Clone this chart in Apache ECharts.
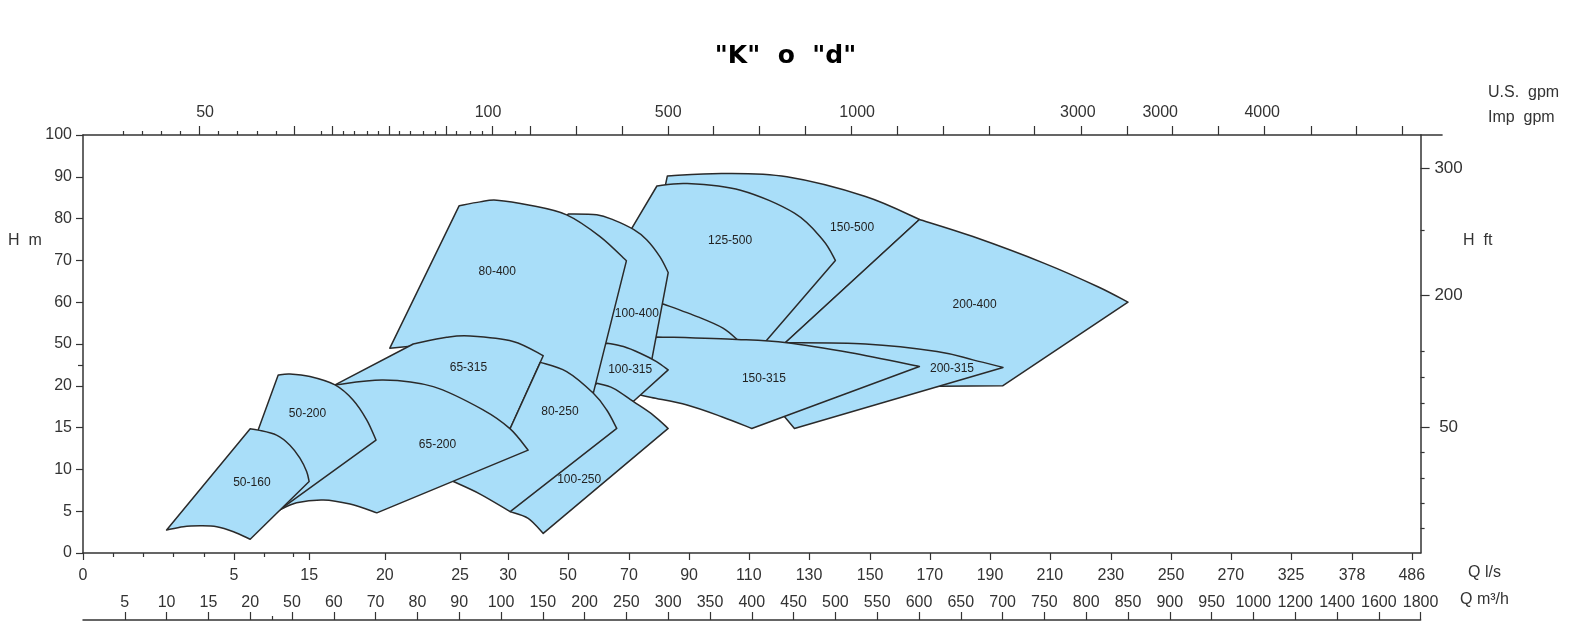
<!DOCTYPE html>
<html><head><meta charset="utf-8">
<script src="https://cdn.jsdelivr.net/npm/echarts@6/dist/echarts.min.js"></script>
<style>html,body{margin:0;padding:0;background:#fff}#c{width:1571px;height:630px}</style>
</head><body><div id="c"></div>
<script>
// ---------------- axis data (positions are in tick-grid units: x = m³/h tick index, y = H tick index) -------------
const hLabels = ['0','5','10','15','20','50','60','70','80','90','100'];
const hMinorPos = [4.5];
const hftLabels = ['300','200','50'];
const hftPos = [9.21, 6.17, 3.01];
const hftMinorPos = [7.73, 4.83, 4.21, 3.59, 2.42, 1.79, 1.20, 0.60];
const qlsLabels = ['0','5','15','20','25','30','50','70','90','110','130','150','170','190','210','230','250','270','325','378','486'];
const qlsPos = [0, 3.61, 5.41, 7.22, 9.02, 10.17, 11.6, 13.06, 14.5, 15.93, 17.37, 18.83, 20.26, 21.7, 23.13, 24.59, 26.03, 27.46, 28.9, 30.36, 31.79];
const qlsMinorPos = [0.73, 1.45, 2.17, 2.89, 4.34, 5.04];
const m3hLabels = ['5','10','15','20','50','60','70','80','90','100','150','200','250','300','350','400','450','500','550','600','650','700','750','800','850','900','950','1000','1200','1400','1600','1800'];
const m3hPos = [1,2,3,4,5,6,7,8,9,10,11,12,13,14,15,16,17,18,19,20,21,22,23,24,25,26,27,28,29,30,31,32];
const m3hMinorPos = [4.52];
const gpmLabels = ['50','100','500','1000','3000','3000','4000'];
const gpmLabelPos = [2.92, 9.69, 14.0, 18.52, 23.80, 25.77, 28.21];
const gpmMajorPos = [2.78, 5.05, 5.96, 7.32, 8.70, 9.78, 10.69, 11.79, 12.89, 14.00, 15.07, 16.17, 17.27, 18.37, 19.47, 20.57, 21.67, 22.75, 23.87, 24.98, 26.05, 27.15, 28.25, 29.38, 30.45, 31.55];
const gpmMinorPos = [0.96, 1.42, 1.88, 2.32, 3.24, 3.70, 4.16, 4.62, 5.69, 6.23, 6.49, 6.79, 7.06, 7.56, 7.82, 8.14, 8.42, 8.94, 9.26, 9.54, 10.33];

// ---------------- tile data (drawn back to front). 'L' = straight polyline, 'C' = smooth curve through points -------------
const t150_500 = [
  ['C',[13.98,9.02],[15.31,9.08],[16.84,9.00],[18.72,8.53],[20.01,7.98]],
  ['L',[20.01,7.98],[16.80,5.03],[16.7,4.95],[15.0,4.95],[13.45,4.95],[13.3,6.4],[13.6,7.5],[13.9,8.5],[13.94,8.83],[13.98,9.02]]
];
const t200_400 = [
  ['C',[20.01,7.98],[21.29,7.57],[23.00,6.93],[24.28,6.37],[25.0,6.0]],
  ['L',[25.0,6.0],[22.0,4.0],[20.5,3.99],[18.7,3.9],[17.0,4.9],[16.80,5.03],[20.01,7.98]]
];
const t125_500 = [
  ['C',[13.73,8.78],[14.45,8.84],[15.73,8.68],[17.02,8.13],[17.70,7.49],[18.00,7.00]],
  ['L',[18.00,7.00],[16.33,5.06],[16.3,4.98],[15.68,5.08]],
  ['C',[15.68,5.08],[15.31,5.38],[14.71,5.65],[13.85,5.97]],
  ['L',[13.85,5.97],[13.4,6.6],[13.0,7.55],[13.73,8.78]]
];
const t200_315 = [
  ['C',[16.80,5.03],[18.72,5.00],[20.43,4.82],[21.29,4.62],[22.01,4.44]],
  ['L',[22.01,4.44],[17.02,2.98],[16.5,3.6],[16.6,4.6],[16.80,5.03]]
];
const t150_315 = [
  ['C',[13.73,5.17],[15.65,5.11],[16.84,5.03],[18.37,4.79],[20.01,4.46]],
  ['L',[20.01,4.46],[16.0,2.98]],
  ['C',[16.0,2.98],[15.28,3.26],[14.45,3.54],[13.60,3.72],[13.17,3.82]],
  ['L',[13.17,3.82],[13.3,4.4],[13.5,5.0],[13.73,5.17]]
];
const t100_400 = [
  ['C',[11.61,8.11],[12.29,8.09],[12.69,7.97],[13.17,7.74],[13.49,7.49],[13.80,7.09],[14.00,6.71]],
  ['L',[14.00,6.71],[13.61,4.64],[13.3,4.4],[12.2,4.7],[12.5,7.0],[11.5,8.0],[11.61,8.11]]
];
const t100_315 = [
  ['C',[12.55,5.02],[12.93,4.94],[13.33,4.78],[13.72,4.58],[14.00,4.38]],
  ['L',[14.00,4.38],[13.17,3.63],[12.7,3.75],[12.15,3.95],[12.1,4.2],[12.3,5.0],[12.55,5.02]]
];
const t100_250 = [
  ['C',[12.29,4.06],[12.69,3.94],[13.17,3.62],[13.64,3.30],[14.00,2.98]],
  ['L',[14.00,2.98],[11.01,0.47]],
  ['C',[11.01,0.47],[10.65,0.83],[10.22,0.99]],
  ['L',[10.22,0.99],[12.0,3.6],[12.15,3.9],[12.29,4.06]]
];
const t80_400 = [
  ['L',[7.34,4.90],[9.00,8.31]],
  ['C',[9.00,8.31],[9.50,8.40],[9.90,8.44],[10.69,8.32],[11.57,8.09],[12.37,7.57],[13.00,6.99]],
  ['L',[13.00,6.99],[12.21,3.83],[11.3,4.3],[10.5,4.8],[9.3,4.9],[7.90,4.95],[7.34,4.90]]
];
const t65_315 = [
  ['L',[6.03,4.02],[7.90,5.00]],
  ['C',[7.90,5.00],[8.70,5.16],[9.26,5.19],[10.29,5.06],[11.01,4.72]],
  ['L',[11.01,4.72],[10.22,2.98],[6.03,4.02]]
];
const t80_250 = [
  ['C',[10.94,4.56],[11.57,4.34],[12.21,3.82],[12.53,3.42],[12.77,2.98]],
  ['L',[12.77,2.98],[10.22,0.99]],
  ['C',[10.22,0.99],[9.50,1.41],[8.86,1.71]],
  ['L',[8.86,1.71],[10.22,2.98],[10.94,4.56]]
];
const t65_200 = [
  ['C',[6.03,4.02],[7.18,4.14],[8.38,3.98],[9.58,3.42],[10.22,2.97],[10.65,2.46]],
  ['L',[10.65,2.46],[7.03,0.96]],
  ['C',[7.03,0.96],[6.39,1.17],[5.75,1.27],[5.11,1.20],[4.67,1.01]],
  ['L',[4.67,1.01],[6.03,4.02]]
];
const t50_200 = [
  ['L',[4.19,2.94],[4.67,4.26]],
  ['C',[4.67,4.26],[4.95,4.28],[5.43,4.22],[6.03,4.02],[6.46,3.66],[6.79,3.18],[7.01,2.70]],
  ['L',[7.01,2.70],[4.67,1.01],[4.19,2.94]]
];
const t50_160 = [
  ['L',[2.00,0.55],[4.00,2.97]],
  ['C',[4.00,2.97],[4.19,2.94],[4.63,2.82],[4.95,2.58],[5.19,2.27],[5.35,1.95],[5.41,1.71]],
  ['L',[5.41,1.71],[4.00,0.33]],
  ['C',[4.00,0.33],[3.60,0.51],[3.20,0.63],[2.80,0.65],[2.40,0.63],[2.00,0.55]]
];
const tileNames = ['150-500','200-400','125-500','200-315','150-315','100-400','100-315','100-250','80-400','65-315','80-250','65-200','50-200','50-160'];
const tileLabelPos = [[18.40,7.78],[21.33,5.95],[15.48,7.47],[20.79,4.40],[16.29,4.18],[13.25,5.73],[13.09,4.38],[11.87,1.75],[9.91,6.72],[9.22,4.43],[11.41,3.38],[8.48,2.60],[5.37,3.33],[4.04,1.69]];
const tileOutlines = [t150_500,t200_400,t125_500,t200_315,t150_315,t100_400,t100_315,t100_250,t80_400,t65_315,t80_250,t65_200,t50_200,t50_160];

// ---------------- rendering -------------
const FONT = 'Liberation Sans, Arial, sans-serif';
const AX = '#333';
const FILL = '#A9DEF9';
const STROKE = '#2a2a2a';

function lbl(pos, labels, v) {
  let b = 0;
  for (let i = 1; i < pos.length; i++) if (Math.abs(pos[i] - v) < Math.abs(pos[b] - v)) b = i;
  return labels[b];
}
function f(n){ return n.toFixed(2); }
function smoothPath(pts) {
  let s = '';
  for (let j = 0; j < pts.length - 1; j++) {
    const p0 = pts[Math.max(j - 1, 0)], p1 = pts[j], p2 = pts[j + 1], p3 = pts[Math.min(j + 2, pts.length - 1)];
    const c1 = [p1[0] + (p2[0] - p0[0]) / 6, p1[1] + (p2[1] - p0[1]) / 6];
    const c2 = [p2[0] - (p3[0] - p1[0]) / 6, p2[1] - (p3[1] - p1[1]) / 6];
    s += 'C' + f(c1[0]) + ' ' + f(c1[1]) + ' ' + f(c2[0]) + ' ' + f(c2[1]) + ' ' + f(p2[0]) + ' ' + f(p2[1]);
  }
  return s;
}
function renderTile(params, api) {
  const i = params.dataIndex;
  const edges = tileOutlines[i];
  let d = '';
  edges.forEach((edge, k) => {
    const kind = edge[0];
    const pts = edge.slice(1).map(p => api.coord(p));
    if (k === 0) d += 'M' + f(pts[0][0]) + ' ' + f(pts[0][1]);
    if (kind === 'L') {
      for (let j = 1; j < pts.length; j++) d += 'L' + f(pts[j][0]) + ' ' + f(pts[j][1]);
    } else {
      d += smoothPath(pts);
    }
  });
  d += 'Z';
  const lp = api.coord(tileLabelPos[i]);
  return {
    type: 'group',
    children: [
      { type: 'path', shape: { pathData: d }, z2: i,
        style: { fill: FILL, stroke: STROKE, lineWidth: 1.5, lineJoin: 'round' } },
      { type: 'text', x: lp[0], y: lp[1], z2: 100,
        style: { text: tileNames[i], align: 'center', verticalAlign: 'middle',
                 fontSize: 12, fontFamily: FONT, fill: '#222' } }
    ]
  };
}

function xa(extra) {
  return Object.assign({
    type: 'value', min: 0, max: 32, splitLine: { show: false },
    axisLine: { show: false, onZero: false },
    axisTick: { show: false }, axisLabel: { show: false }
  }, extra);
}
function ya(extra) {
  return Object.assign({
    type: 'value', min: 0, max: 10, splitLine: { show: false },
    axisLine: { show: false, onZero: false },
    axisTick: { show: false }, axisLabel: { show: false }
  }, extra);
}
const lineSt = { color: AX, width: 1.5 };
const tickSt = { color: AX, width: 1.2 };
const labSt = (size) => ({ color: '#333', fontSize: size, fontFamily: FONT });

const chart = echarts.init(document.getElementById('c'), null, { renderer: 'canvas' });
chart.setOption({
  backgroundColor: '#fff',
  animation: false,
  title: {
    text: '"K"  o  "d"', left: 'center', top: 39,
    textStyle: { fontFamily: 'DejaVu Sans', fontWeight: 'bold', fontSize: 25, color: '#000' }
  },
  grid: { left: 83, top: 135, width: 1337.6, height: 418, containLabel: false, outerBoundsMode: 'none' },
  xAxis: [
    xa({ position: 'bottom',
      axisLine: { show: true, onZero: false, lineStyle: lineSt },
      axisTick: { show: true, customValues: qlsPos, length: 7, lineStyle: tickSt },
      axisLabel: Object.assign({ show: true, customValues: qlsPos, margin: 15,
        formatter: v => lbl(qlsPos, qlsLabels, v) }, labSt(16)) }),
    xa({ position: 'bottom',
      axisTick: { show: true, customValues: qlsMinorPos, length: 4, lineStyle: tickSt } }),
    xa({ position: 'bottom', offset: 67,
      axisLine: { show: true, onZero: false, lineStyle: lineSt },
      axisTick: { show: true, inside: true, customValues: m3hPos, length: 8, lineStyle: tickSt },
      axisLabel: Object.assign({ show: true, inside: true, customValues: m3hPos, margin: 9,
        formatter: v => lbl(m3hPos, m3hLabels, v) }, labSt(16)) }),
    xa({ position: 'bottom', offset: 67,
      axisTick: { show: true, inside: true, customValues: m3hMinorPos, length: 4, lineStyle: tickSt } }),
    xa({ position: 'top',
      axisLine: { show: true, onZero: false, lineStyle: lineSt },
      axisTick: { show: true, customValues: gpmMajorPos, length: 9, lineStyle: tickSt },
      axisLabel: Object.assign({ show: true, customValues: gpmLabelPos, margin: 14,
        formatter: v => lbl(gpmLabelPos, gpmLabels, v) }, labSt(16)) }),
    xa({ position: 'top',
      axisTick: { show: true, customValues: gpmMinorPos, length: 4, lineStyle: tickSt } })
  ],
  yAxis: [
    ya({ position: 'left', interval: 1,
      axisLine: { show: true, onZero: false, lineStyle: lineSt },
      axisTick: { show: true, length: 7, lineStyle: tickSt },
      axisLabel: Object.assign({ show: true, margin: 11,
        formatter: v => hLabels[Math.round(v)] }, labSt(16)) }),
    ya({ position: 'left',
      axisTick: { show: true, customValues: hMinorPos, length: 5, lineStyle: tickSt } }),
    ya({ position: 'right',
      axisLine: { show: true, onZero: false, lineStyle: lineSt },
      axisTick: { show: true, customValues: hftPos, length: 9, lineStyle: tickSt },
      axisLabel: Object.assign({ show: true, customValues: hftPos, margin: 28, align: 'center',
        formatter: v => lbl(hftPos, hftLabels, v) }, labSt(17)) }),
    ya({ position: 'right',
      axisTick: { show: true, customValues: hftMinorPos, length: 4, lineStyle: tickSt } }),
    ya({ position: 'right',
      axisTick: { show: true, customValues: [10], length: 22, lineStyle: lineSt } })
  ],
  graphic: [
    { type: 'text', left: 8, top: 233, style: { text: 'H  m', fontSize: 16, fontFamily: FONT, fill: '#333' } },
    { type: 'text', left: 1463, top: 233, style: { text: 'H  ft', fontSize: 16, fontFamily: FONT, fill: '#333' } },
    { type: 'text', left: 1488, top: 85, style: { text: 'U.S.  gpm', fontSize: 16, fontFamily: FONT, fill: '#333' } },
    { type: 'text', left: 1488, top: 110, style: { text: 'Imp  gpm', fontSize: 16, fontFamily: FONT, fill: '#333' } },
    { type: 'text', left: 1468, top: 565, style: { text: 'Q l/s', fontSize: 16, fontFamily: FONT, fill: '#333' } },
    { type: 'text', left: 1460, top: 592, style: { text: 'Q m³/h', fontSize: 16, fontFamily: FONT, fill: '#333' } }
  ],
  series: [{
    type: 'custom', coordinateSystem: 'cartesian2d', xAxisIndex: 0, yAxisIndex: 0,
    data: tileLabelPos.map(p => [p[0], p[1]]),
    renderItem: renderTile, silent: true, clip: false, z: 3
  }]
});
</script>
</body></html>
